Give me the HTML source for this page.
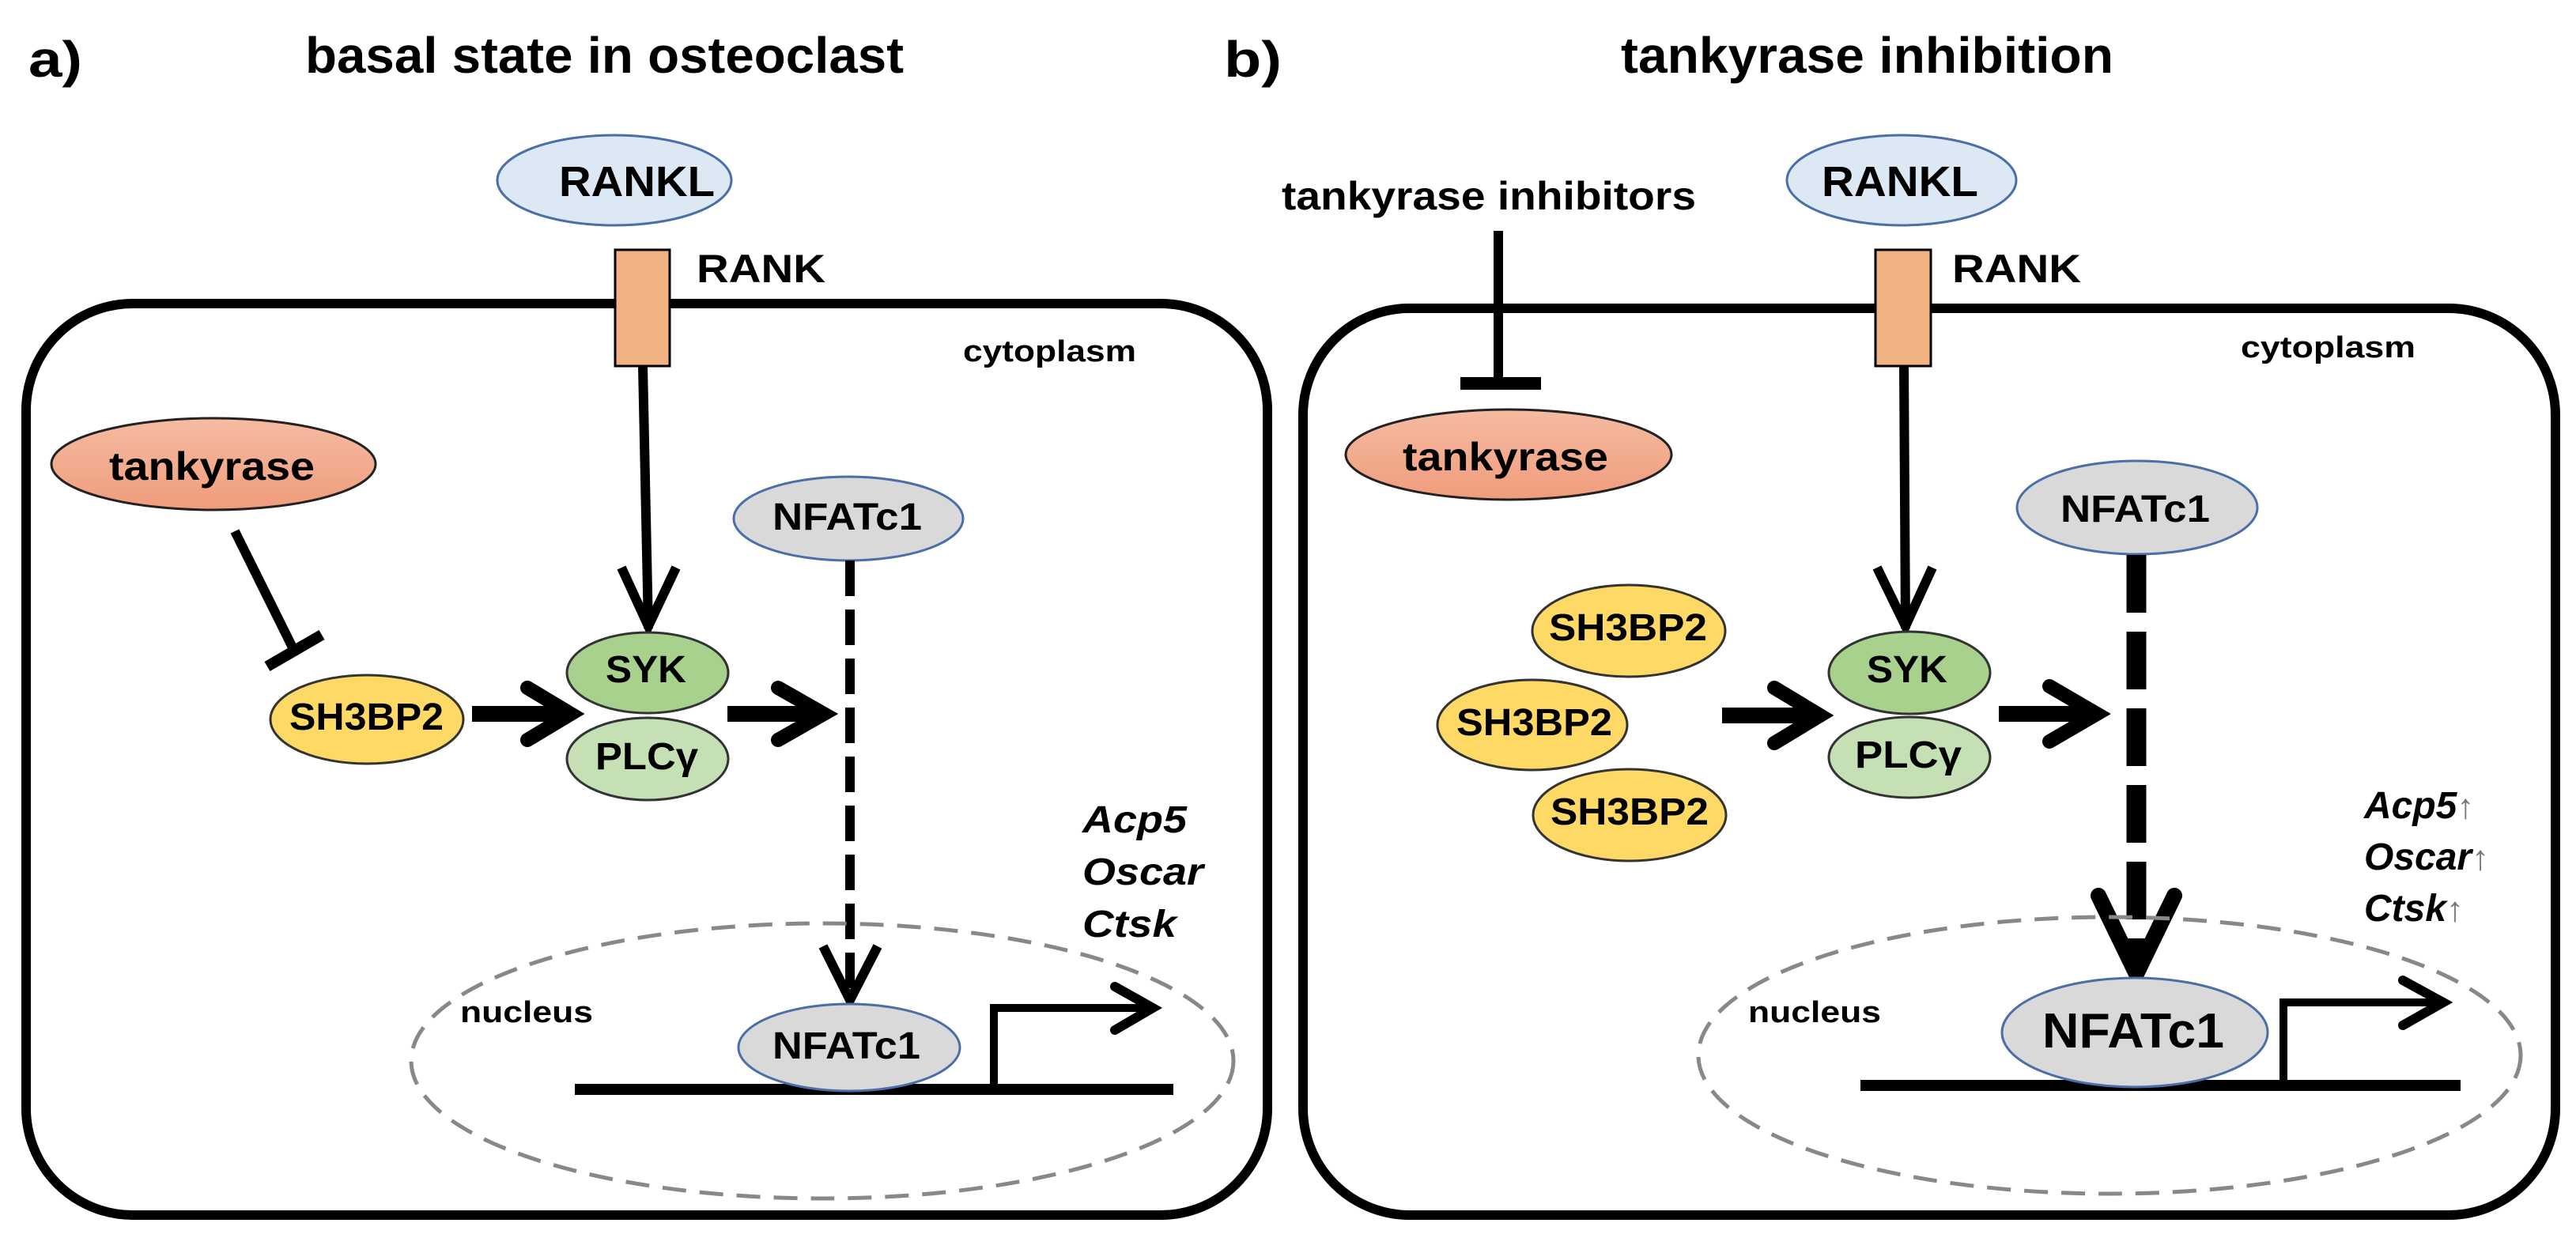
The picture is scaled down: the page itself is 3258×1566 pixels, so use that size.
<!DOCTYPE html>
<html><head><meta charset="utf-8"><style>html,body{margin:0;padding:0;background:#fff}svg{display:block}text{font-family:"Liberation Sans",Arial,sans-serif;font-weight:bold;fill:#000}</style></head><body>
<svg width="3258" height="1566" viewBox="0 0 3258 1566" xmlns="http://www.w3.org/2000/svg">
<defs>
<linearGradient id="tk" x1="0" y1="0" x2="0" y2="1"><stop offset="0" stop-color="#f5bba2"/><stop offset="1" stop-color="#f09c7c"/></linearGradient>
</defs>
<text x="36" y="97" font-size="64" textLength="68" lengthAdjust="spacingAndGlyphs">a)</text>
<text x="386" y="92" font-size="64" textLength="757" lengthAdjust="spacingAndGlyphs">basal state in osteoclast</text>
<text x="1548" y="97" font-size="64" textLength="73" lengthAdjust="spacingAndGlyphs">b)</text>
<text x="2050" y="92" font-size="64" textLength="623" lengthAdjust="spacingAndGlyphs">tankyrase inhibition</text>

<!-- LEFT PANEL -->
<rect x="33" y="384" width="1570" height="1153" rx="135" ry="135" fill="none" stroke="#000" stroke-width="12"/>
<ellipse cx="777" cy="228" rx="148" ry="57" fill="#dde8f5" stroke="#4a6fa8" stroke-width="3"/>
<text x="707" y="248" font-size="54" textLength="197" lengthAdjust="spacingAndGlyphs">RANKL</text>
<rect x="778" y="316" width="69" height="147" fill="#f2b183" stroke="#000" stroke-width="3"/>
<text x="881" y="357" font-size="50" textLength="163" lengthAdjust="spacingAndGlyphs">RANK</text>
<text x="1218" y="457" font-size="38" textLength="219" lengthAdjust="spacingAndGlyphs">cytoplasm</text>
<ellipse cx="270" cy="587" rx="205" ry="58" fill="url(#tk)" stroke="#222" stroke-width="3"/>
<text x="138" y="607" font-size="50" textLength="260" lengthAdjust="spacingAndGlyphs">tankyrase</text>
<ellipse cx="1073" cy="656" rx="145" ry="53" fill="#d9d9d9" stroke="#4a6fa8" stroke-width="3"/>
<text x="977" y="670" font-size="48" textLength="189" lengthAdjust="spacingAndGlyphs">NFATc1</text>
<line x1="813" y1="463" x2="820" y2="795" stroke="#000" stroke-width="12"/>
<polyline points="786,718 820,792 855,718" fill="none" stroke="#000" stroke-width="12"/>
<line x1="297" y1="672" x2="372" y2="823" stroke="#000" stroke-width="12"/>
<line x1="338" y1="843" x2="407" y2="803" stroke="#000" stroke-width="14"/>
<line x1="1075" y1="709" x2="1075" y2="1262" stroke="#000" stroke-width="12" stroke-dasharray="45 17"/>
<polyline points="1041,1197 1075,1265 1110,1197" fill="none" stroke="#000" stroke-width="12"/>
<ellipse cx="464" cy="910" rx="122" ry="56" fill="#ffd966" stroke="#333" stroke-width="3"/>
<text x="366" y="923" font-size="48" textLength="195" lengthAdjust="spacingAndGlyphs">SH3BP2</text>
<ellipse cx="819" cy="851" rx="102" ry="51" fill="#a9d18e" stroke="#333" stroke-width="3"/>
<text x="766" y="863" font-size="48" textLength="102" lengthAdjust="spacingAndGlyphs">SYK</text>
<ellipse cx="819" cy="960" rx="102" ry="52" fill="#c5e0b4" stroke="#333" stroke-width="3"/>
<text x="753" y="973" font-size="48" textLength="130" lengthAdjust="spacingAndGlyphs">PLCγ</text>
<line x1="597" y1="903" x2="715" y2="903" stroke="#000" stroke-width="20"/>
<polyline points="667,870 722,903 667,936" fill="none" stroke="#000" stroke-width="18" stroke-linecap="round"/>
<line x1="920" y1="903" x2="1037" y2="903" stroke="#000" stroke-width="20"/>
<polyline points="984,870 1042,903 984,936" fill="none" stroke="#000" stroke-width="18" stroke-linecap="round"/>
<text x="1369" y="1053" font-size="48" font-style="italic" textLength="132" lengthAdjust="spacingAndGlyphs">Acp5</text>
<text x="1369" y="1119" font-size="48" font-style="italic" textLength="153" lengthAdjust="spacingAndGlyphs">Oscar</text>
<text x="1369" y="1185" font-size="48" font-style="italic" textLength="119" lengthAdjust="spacingAndGlyphs">Ctsk</text>
<ellipse cx="1040" cy="1342" rx="520" ry="174" fill="none" stroke="#888" stroke-width="5" stroke-dasharray="30 17"/>
<text x="582" y="1293" font-size="38" textLength="168" lengthAdjust="spacingAndGlyphs">nucleus</text>
<line x1="727" y1="1378" x2="1484" y2="1378" stroke="#000" stroke-width="14"/>
<ellipse cx="1074" cy="1325" rx="140" ry="55" fill="#d9d9d9" stroke="#4a6fa8" stroke-width="3"/>
<text x="977" y="1339" font-size="48" textLength="187" lengthAdjust="spacingAndGlyphs">NFATc1</text>
<polyline points="1257,1378 1257,1275 1455,1275" fill="none" stroke="#000" stroke-width="10"/>
<polyline points="1410,1248 1458,1275 1410,1303" fill="none" stroke="#000" stroke-width="12" stroke-linecap="round"/>

<!-- RIGHT PANEL -->
<rect x="1648" y="390" width="1584" height="1147" rx="135" ry="135" fill="none" stroke="#000" stroke-width="12"/>
<text x="1621" y="265" font-size="50" textLength="524" lengthAdjust="spacingAndGlyphs">tankyrase inhibitors</text>
<ellipse cx="2405" cy="228" rx="145" ry="57" fill="#dde8f5" stroke="#4a6fa8" stroke-width="3"/>
<text x="2304" y="248" font-size="54" textLength="198" lengthAdjust="spacingAndGlyphs">RANKL</text>
<rect x="2372" y="316" width="70" height="147" fill="#f2b183" stroke="#000" stroke-width="3"/>
<text x="2469" y="357" font-size="50" textLength="163" lengthAdjust="spacingAndGlyphs">RANK</text>
<text x="2834" y="452" font-size="38" textLength="221" lengthAdjust="spacingAndGlyphs">cytoplasm</text>
<line x1="1895" y1="292" x2="1895" y2="482" stroke="#000" stroke-width="12"/>
<line x1="1847" y1="485" x2="1949" y2="485" stroke="#000" stroke-width="16"/>
<ellipse cx="1908" cy="575" rx="206" ry="57" fill="url(#tk)" stroke="#222" stroke-width="3"/>
<text x="1774" y="595" font-size="50" textLength="260" lengthAdjust="spacingAndGlyphs">tankyrase</text>
<ellipse cx="2703" cy="642" rx="152" ry="59" fill="#d9d9d9" stroke="#4a6fa8" stroke-width="3"/>
<text x="2606" y="660" font-size="48" textLength="189" lengthAdjust="spacingAndGlyphs">NFATc1</text>
<line x1="2408" y1="463" x2="2410" y2="795" stroke="#000" stroke-width="12"/>
<polyline points="2374,718 2410,792 2444,718" fill="none" stroke="#000" stroke-width="12"/>
<line x1="2702" y1="702" x2="2702" y2="1230" stroke="#000" stroke-width="25" stroke-dasharray="73 24"/>
<polyline points="2654,1133 2702,1232 2750,1133" fill="none" stroke="#000" stroke-width="20" stroke-linecap="round"/>
<ellipse cx="2060" cy="798" rx="122" ry="58" fill="#ffd966" stroke="#333" stroke-width="3"/>
<text x="1959" y="810" font-size="48" textLength="200" lengthAdjust="spacingAndGlyphs">SH3BP2</text>
<ellipse cx="1938" cy="917" rx="120" ry="57" fill="#ffd966" stroke="#333" stroke-width="3"/>
<text x="1842" y="930" font-size="48" textLength="197" lengthAdjust="spacingAndGlyphs">SH3BP2</text>
<ellipse cx="2061" cy="1031" rx="122" ry="58" fill="#ffd966" stroke="#333" stroke-width="3"/>
<text x="1961" y="1043" font-size="48" textLength="200" lengthAdjust="spacingAndGlyphs">SH3BP2</text>
<ellipse cx="2415" cy="851" rx="102" ry="52" fill="#a9d18e" stroke="#333" stroke-width="3"/>
<text x="2361" y="863" font-size="48" textLength="102" lengthAdjust="spacingAndGlyphs">SYK</text>
<ellipse cx="2415" cy="958" rx="102" ry="51" fill="#c5e0b4" stroke="#333" stroke-width="3"/>
<text x="2346" y="971" font-size="48" textLength="135" lengthAdjust="spacingAndGlyphs">PLCγ</text>
<line x1="2178" y1="905" x2="2295" y2="905" stroke="#000" stroke-width="20"/>
<polyline points="2244,870 2302,905 2244,940" fill="none" stroke="#000" stroke-width="18" stroke-linecap="round"/>
<line x1="2528" y1="903" x2="2646" y2="903" stroke="#000" stroke-width="20"/>
<polyline points="2592,868 2652,903 2592,938" fill="none" stroke="#000" stroke-width="18" stroke-linecap="round"/>
<text x="2990" y="1035" font-size="48" font-style="italic">Acp5<tspan font-style="normal" font-weight="normal" fill="#777" font-size="44">↑</tspan></text>
<text x="2990" y="1100" font-size="48" font-style="italic">Oscar<tspan font-style="normal" font-weight="normal" fill="#777" font-size="44">↑</tspan></text>
<text x="2990" y="1165" font-size="48" font-style="italic">Ctsk<tspan font-style="normal" font-weight="normal" fill="#777" font-size="44">↑</tspan></text>
<ellipse cx="2668" cy="1335" rx="520" ry="175" fill="none" stroke="#888" stroke-width="5" stroke-dasharray="30 17"/>
<text x="2211" y="1293" font-size="38" textLength="168" lengthAdjust="spacingAndGlyphs">nucleus</text>
<line x1="2353" y1="1373" x2="3112" y2="1373" stroke="#000" stroke-width="14"/>
<ellipse cx="2700" cy="1306" rx="168" ry="69" fill="#d9d9d9" stroke="#4a6fa8" stroke-width="3"/>
<text x="2583" y="1325" font-size="62" textLength="230" lengthAdjust="spacingAndGlyphs">NFATc1</text>
<polyline points="2888,1373 2888,1268 3085,1268" fill="none" stroke="#000" stroke-width="10"/>
<polyline points="3039,1240 3090,1268 3039,1297" fill="none" stroke="#000" stroke-width="12" stroke-linecap="round"/>
</svg>
</body></html>
